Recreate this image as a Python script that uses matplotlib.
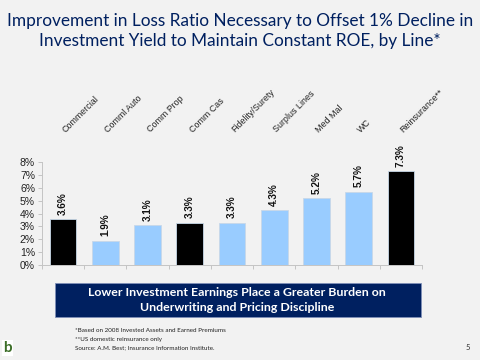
import matplotlib
matplotlib.use('Agg')
import matplotlib.pyplot as plt

# Chart data
categories = ['Commercial', 'Comml Auto', 'Comm Prop', 'Comm Cas', 'Fidelity/Surety',
              'Surplus Lines', 'Med Mal', 'WC', 'Reinsurance**']
values = [3.6, 1.9, 3.1, 3.3, 3.3, 4.3, 5.2, 5.7, 7.3]
bar_colors = ['black', '#99ccff', '#99ccff', 'black', '#99ccff', '#99ccff', '#99ccff', '#99ccff', 'black']
y_ticks = [0, 1, 2, 3, 4, 5, 6, 7, 8]

title_lines = ['Improvement in Loss Ratio Necessary to Offset 1% Decline in',
               'Investment Yield to Maintain Constant ROE, by Line*']
banner_lines = ['Lower Investment Earnings Place a Greater Burden on',
                'Underwriting and Pricing Discipline']
notes = ['*Based on 2008 Invested Assets and Earned Premiums',
         '**US domestic reinsurance only',
         'Source: A.M. Best; Insurance Information Institute.']

W, H = 480, 360
bg = '#f2f2f2'
navy = '#002060'

fig = plt.figure(figsize=(W / 100, H / 100), dpi=100, facecolor=bg)

# Plot area in pixels: x 42-422, y 162-265
ax = fig.add_axes([42 / W, 1 - 265 / H, 380 / W, 103 / H], facecolor=bg)
x = list(range(len(categories)))
ax.bar(x, values, width=0.63, color=bar_colors, edgecolor='#c8d8e8', linewidth=0.6)
ax.set_xlim(-0.5, 8.5)
ax.set_ylim(0, 8)
ax.set_yticks(y_ticks)
ax.set_yticklabels([str(t) + '%' for t in y_ticks], fontsize=7.5, color='#222222',
                   family='Liberation Sans')
ax.set_xticks([i - 0.5 for i in range(10)])
ax.set_xticklabels([])
ax.tick_params(axis='both', color='#c4c4c4', length=3, width=0.7, pad=2)
ax.tick_params(axis='x', direction='out')
for s in ['top', 'right']:
    ax.spines[s].set_visible(False)
for s in ['left', 'bottom']:
    ax.spines[s].set_color('#c4c4c4')
    ax.spines[s].set_linewidth(0.7)

# Value labels
for i, v in enumerate(values):
    ax.text(i, v + 0.32, '%.1f%%' % v, rotation=90, ha='center', va='bottom',
            fontsize=7.2, fontweight='bold', color='#111111', family='Liberation Sans')

# Category labels sit above the plot, slanted
for i, c in enumerate(categories):
    ax.annotate(c, xy=(i, 1), xycoords=ax.get_xaxis_transform(),
                xytext=(3, 20), textcoords='offset points',
                rotation=45, rotation_mode='anchor', ha='left', va='bottom',
                fontsize=6.4, color='#222222', family='Liberation Sans')

# Title
fig.text(240 / W, 1 - 21 / H, title_lines[0], ha='center', va='center', fontsize=12.4,
         color=navy, family='Lato')
fig.text(240 / W, 1 - 41 / H, title_lines[1], ha='center', va='center', fontsize=12.4,
         color=navy, family='Lato')

# Banner
banner = plt.Rectangle((54.5 / W, 1 - 317 / H), 366 / W, 34 / H, transform=fig.transFigure,
                       facecolor=navy, edgecolor='#8090b8', linewidth=0.6)
fig.add_artist(banner)
fig.text(237 / W, 1 - 292 / H, banner_lines[0], ha='center', va='center', fontsize=8.9,
         fontweight='bold', color='white', family='Lato')
fig.text(237 / W, 1 - 307.5 / H, banner_lines[1], ha='center', va='center', fontsize=8.9,
         fontweight='bold', color='white', family='Lato')

# Footnotes
for line, py in zip(notes, [330.5, 339.5, 348]):
    fig.text(75 / W, 1 - py / H, line, ha='left', va='center', fontsize=4.5,
             color='#222222', family='Lato')

# Logo and page number
fig.text(7.5 / W, 1 - 348 / H, 'b', ha='center', va='center', fontsize=11, fontweight='bold',
         color='#3c6e28', family='Lato', bbox=dict(facecolor='white', edgecolor='none', pad=0.5))
fig.text(468 / W, 1 - 347 / H, '5', ha='center', va='center', fontsize=5.5,
         color='#333333', family='Lato')

fig.savefig('out.png', dpi=100, facecolor=bg)
